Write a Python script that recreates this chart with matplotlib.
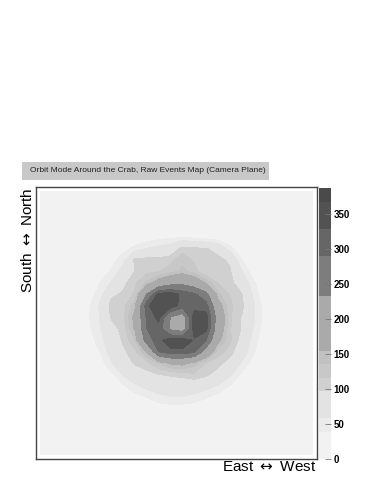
import numpy as np
import matplotlib
matplotlib.use("Agg")
import matplotlib.pyplot as plt
from matplotlib.patches import Rectangle

plt.rcParams['font.family'] = ['Liberation Sans', 'DejaVu Sans']
plt.rcParams['mathtext.fontset'] = 'dejavusans'

title_text = "Orbit Mode Around the Crab, Raw Events Map (Camera Plane)"
x_label = r"East $\leftrightarrow$ West"
y_label = r"South $\leftrightarrow$ North"
z_max = 387.0
n_levels = 20
cbar_ticks = [0, 50, 100, 150, 200, 250, 300, 350]
band_colors = ['#f2f2f2', '#f2f2f2', '#ebebeb', '#e3e3e3', '#e3e3e3',
               '#d0d0d0', '#c8c8c8', '#c1c1c1', '#aaaaaa', '#aaaaaa',
               '#aaaaaa', '#aaaaaa', '#7d7d7d', '#7d7d7d', '#7d7d7d',
               '#666666', '#666666', '#525252', '#525252', '#4a4a4a']

# rows from North (top) to South (bottom), columns East (left) to West (right)
event_counts = [
    [18]*24,
    [18]*24,
    [18]*24,
    [18]*24,
    [18, 18, 18, 18, 18, 18, 18, 18, 20, 25, 30, 34, 36, 32, 26, 20, 18, 18, 18, 18, 18, 18, 18, 18],
    [18, 18, 18, 18, 18, 18, 18, 30, 45, 58, 66, 72, 105, 100, 98, 85, 45, 20, 18, 18, 18, 18, 18, 18],
    [18, 18, 18, 18, 18, 18, 30, 50, 102, 105, 104, 110, 130, 112, 108, 104, 92, 40, 18, 18, 18, 18, 18, 18],
    [18, 18, 18, 18, 18, 20, 42, 70, 98, 110, 115, 125, 140, 125, 95, 108, 100, 60, 25, 18, 18, 18, 18, 18],
    [18, 18, 18, 18, 18, 38, 60, 90, 112, 140, 175, 205, 215, 190, 150, 115, 105, 80, 42, 18, 18, 18, 18, 18],
    [18, 18, 18, 18, 30, 45, 92, 100, 120, 235, 345, 350, 320, 300, 250, 140, 115, 98, 52, 20, 18, 18, 18, 18],
    [18, 18, 18, 18, 33, 60, 105, 108, 150, 320, 360, 350, 315, 310, 310, 175, 120, 103, 62, 25, 18, 18, 18, 18],
    [18, 18, 18, 18, 34, 58, 100, 110, 165, 300, 340, 230, 190, 355, 345, 200, 120, 95, 62, 28, 18, 18, 18, 18],
    [18, 18, 18, 18, 32, 55, 85, 105, 160, 290, 315, 220, 195, 350, 340, 190, 118, 95, 56, 25, 18, 18, 18, 18],
    [18, 18, 18, 18, 25, 48, 76, 100, 135, 260, 320, 350, 355, 325, 290, 165, 120, 85, 48, 22, 18, 18, 18, 18],
    [18, 18, 18, 18, 20, 38, 68, 92, 110, 160, 290, 320, 320, 300, 200, 125, 108, 74, 42, 18, 18, 18, 18, 18],
    [18, 18, 18, 18, 18, 25, 56, 78, 100, 110, 135, 160, 165, 145, 115, 105, 85, 56, 28, 18, 18, 18, 18, 18],
    [18, 18, 18, 18, 18, 20, 33, 60, 76, 88, 96, 100, 104, 112, 102, 84, 62, 35, 20, 18, 18, 18, 18, 18],
    [18, 18, 18, 18, 18, 18, 20, 35, 54, 66, 74, 76, 76, 74, 67, 56, 37, 22, 18, 18, 18, 18, 18, 18],
    [18, 18, 18, 18, 18, 18, 18, 20, 28, 38, 50, 56, 56, 50, 40, 29, 20, 18, 18, 18, 18, 18, 18, 18],
    [18, 18, 18, 18, 18, 18, 18, 18, 18, 20, 24, 26, 26, 24, 20, 18, 18, 18, 18, 18, 18, 18, 18, 18],
    [18]*24,
    [18]*24,
    [18]*24,
    [18]*24,
]

Z = np.array(event_counts, dtype=float)[::-1]
ny, nx = Z.shape
xc = np.arange(nx)
yc = np.arange(ny)
levels = np.linspace(0, z_max, n_levels + 1)

W, H = 381, 493
fig = plt.figure(figsize=(W / 100, H / 100), dpi=100)
fig.patch.set_facecolor('white')

ax = fig.add_axes([36 / W, 34 / H, 281 / W, 272 / H])
cs = ax.contourf(xc, yc, Z, levels=levels, colors=band_colors)
ax.set_xlim(-0.35, nx - 1 + 0.35)
ax.set_ylim(-0.35, ny - 1 + 0.35)
ax.set_xticks([])
ax.set_yticks([])
for s in ax.spines.values():
    s.set_color('#444444')
    s.set_linewidth(1.0)

cax = fig.add_axes([319 / W, 34 / H, 12 / W, 271 / H])
cb = fig.colorbar(cs, cax=cax, ticks=cbar_ticks)
cb.outline.set_visible(False)
cax.tick_params(direction='in', length=4, width=0.6, color='#777777',
                labelsize=7, pad=2)
for lab in cax.get_yticklabels():
    lab.set_fontweight('bold')

fig.patches.append(Rectangle((22 / W, (H - 180) / H), 247 / W, 18 / H,
                             transform=fig.transFigure, fc='#c8c8c8',
                             ec='none', zorder=0))
fig.text(30 / W, 1 - 171 / H, title_text, fontsize=6.0, ha='left',
         va='center', color='#222222')

fig.text(316 / W, 1 - 467 / H, x_label, ha='right', va='center', fontsize=11)
fig.text(28 / W, 1 - 188 / H, y_label, ha='center', va='top', rotation=90,
         fontsize=11)

fig.savefig('out.png', dpi=100)
